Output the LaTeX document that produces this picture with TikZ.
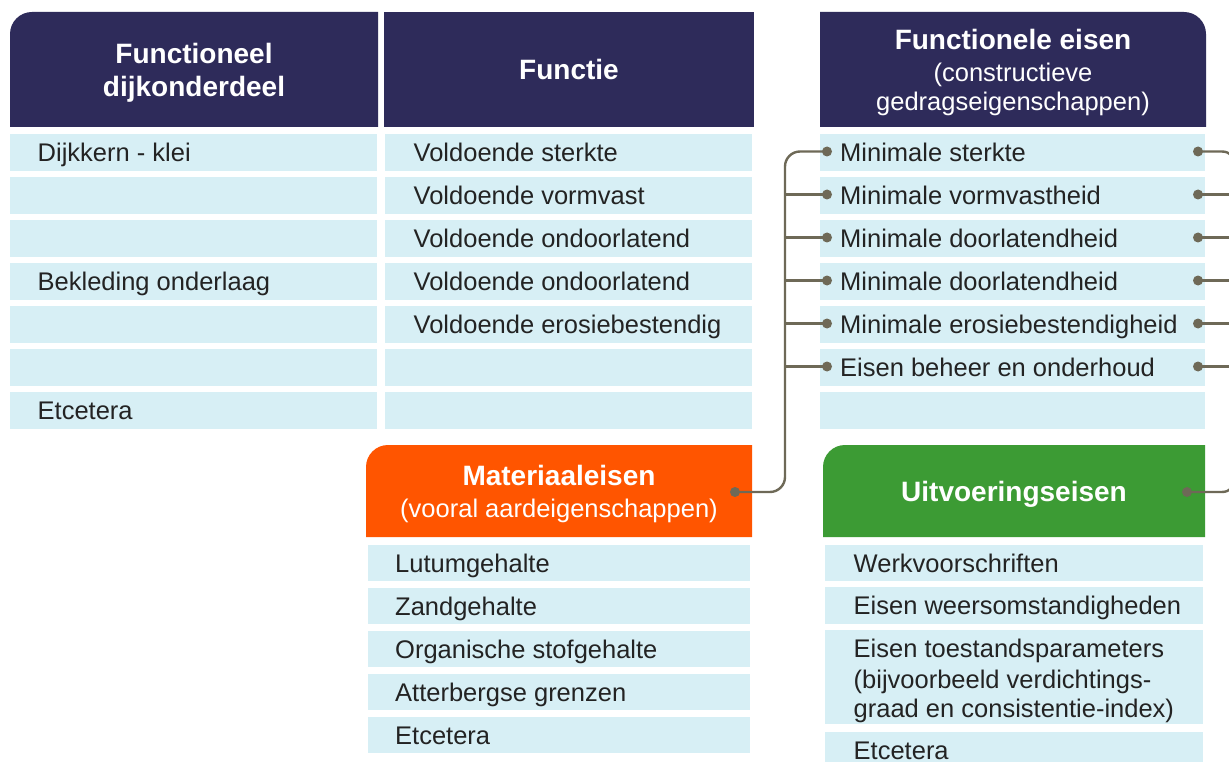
\documentclass[tikz,border=0pt]{standalone}
\usepackage{fontspec}
\setmainfont{Liberation Sans}
\definecolor{navy}{HTML}{2E2B5A}
\definecolor{cellblue}{HTML}{D7EFF5}
\definecolor{orangeA}{HTML}{FF5500}
\definecolor{greenA}{HTML}{3C9B34}
\definecolor{conn}{HTML}{6E6957}
\definecolor{txt}{HTML}{232323}
\begin{document}
\begin{tikzpicture}[x=1pt,y=-1pt,
 cellbox/.style={fill=cellblue, draw=none, anchor=north west, inner sep=0pt, minimum height=37pt},
 celltext/.style={anchor=base west, inner sep=0pt, text=txt, font=\fontsize{25.5}{30}\selectfont},
 headtitle/.style={anchor=base, inner sep=0pt, text=white, font=\bfseries\fontsize{28}{33}\selectfont},
 headsub/.style={anchor=base, inner sep=0pt, text=white, font=\fontsize{25.5}{30}\selectfont},
 dotnode/.style={circle, fill=conn, inner sep=0pt, minimum size=10pt},
 connline/.style={draw=conn, line width=2.4pt}
]
\useasboundingbox (0,0) rectangle (1229,762);
\clip (0,0) rectangle (1229,762);
\fill[white] (0,0) rectangle (1229,762);

% headers
\fill[navy] (10,127) [rounded corners=22pt] -- (10,12) [sharp corners] -- (378,12) -- (378,127) -- cycle;
\fill[navy] (384,12) rectangle (754,127);
\fill[navy] (820,127) -- (820,12) [rounded corners=22pt] -- (1206,12) [sharp corners] -- (1206,127) -- cycle;
\node[headtitle] (h1a) at (194,63.3) {Functioneel};
\node[headtitle] (h1b) at (194,96.7) {dijkonderdeel};
\node[headtitle] (h2) at (569,80) {Functie};
\node[headtitle] (h3a) at (1013,50) {Functionele eisen};
\node[headsub] (h3b) at (1013,82) {(constructieve};
\node[headsub] (h3c) at (1013,111) {gedragseigenschappen)};

% table cells
\foreach \i in {0,...,6} {
  \node[cellbox, minimum width=367pt] (a\i) at (10,{133.5+43*\i}) {};
  \node[cellbox, minimum width=367pt] (b\i) at (385,{133.5+43*\i}) {};
  \node[cellbox, minimum width=385pt] (c\i) at (820,{133.5+43*\i}) {};
}
\node[celltext] (ta0) at ([shift={(27.5,28)}]a0.north west) {Dijkkern - klei};
\node[celltext] (ta3) at ([shift={(27.5,28)}]a3.north west) {Bekleding onderlaag};
\node[celltext] (ta6) at ([shift={(27.5,28)}]a6.north west) {Etcetera};

\node[celltext] (tb0) at ([shift={(28.5,28)}]b0.north west) {Voldoende sterkte};
\node[celltext] (tb1) at ([shift={(28.5,28)}]b1.north west) {Voldoende vormvast};
\node[celltext] (tb2) at ([shift={(28.5,28)}]b2.north west) {Voldoende ondoorlatend};
\node[celltext] (tb3) at ([shift={(28.5,28)}]b3.north west) {Voldoende ondoorlatend};
\node[celltext] (tb4) at ([shift={(28.5,28)}]b4.north west) {Voldoende erosiebestendig};

\node[celltext] (tc0) at ([shift={(20,28)}]c0.north west) {Minimale sterkte};
\node[celltext] (tc1) at ([shift={(20,28)}]c1.north west) {Minimale vormvastheid};
\node[celltext] (tc2) at ([shift={(20,28)}]c2.north west) {Minimale doorlatendheid};
\node[celltext] (tc3) at ([shift={(20,28)}]c3.north west) {Minimale doorlatendheid};
\node[celltext] (tc4) at ([shift={(20,28)}]c4.north west) {Minimale erosiebestendigheid};
\node[celltext] (tc5) at ([shift={(20,28)}]c5.north west) {Eisen beheer en onderhoud};

% Materiaaleisen
\fill[orangeA] (366,537) [rounded corners=22pt] -- (366,445) [sharp corners] -- (752,445) -- (752,537) -- cycle;
\node[headtitle] (mt) at (559,485) {Materiaaleisen};
\node[headsub] (ms) at (559,517) {(vooral aardeigenschappen)};
\foreach \i in {0,...,4} {
  \node[cellbox, minimum width=382pt, minimum height=36pt] (m\i) at (368,{545+43*\i}) {};
}
\node[celltext] (tm0) at ([shift={(27,27.5)}]m0.north west) {Lutumgehalte};
\node[celltext] (tm1) at ([shift={(27,27.5)}]m1.north west) {Zandgehalte};
\node[celltext] (tm2) at ([shift={(27,27.5)}]m2.north west) {Organische stofgehalte};
\node[celltext] (tm3) at ([shift={(27,27.5)}]m3.north west) {Atterbergse grenzen};
\node[celltext] (tm4) at ([shift={(27,27.5)}]m4.north west) {Etcetera};

% Uitvoeringseisen
\fill[greenA] (823,537) [rounded corners=22pt] -- (823,445) [sharp corners] -- (1205,445) -- (1205,537) -- cycle;
\node[headtitle] (ut) at (1014,501) {Uitvoeringseisen};
\node[cellbox, minimum width=378pt, minimum height=36pt] (u0) at (825,545) {};
\node[cellbox, minimum width=378pt, minimum height=37pt] (u1) at (825,587) {};
\node[cellbox, minimum width=378pt, minimum height=94pt] (u2) at (825,630) {};
\node[cellbox, minimum width=378pt, minimum height=40pt] (u3) at (825,732) {};
\node[celltext] (tu0) at ([shift={(28.5,27)}]u0.north west) {Werkvoorschriften};
\node[celltext] (tu1) at ([shift={(28.5,27)}]u1.north west) {Eisen weersomstandigheden};
\node[celltext] (tu2a) at ([shift={(28.5,27)}]u2.north west) {Eisen toestandsparameters};
\node[celltext] (tu2b) at ([shift={(28.5,58)}]u2.north west) {(bijvoorbeeld verdichtings-};
\node[celltext] (tu2c) at ([shift={(28.5,87)}]u2.north west) {graad en consistentie-index)};
\node[celltext] (tu3) at ([shift={(28.5,27)}]u3.north west) {Etcetera};

% connectors
\node[dotnode] (dm) at (735,492) {};
\node[dotnode] (dg) at (1187,492) {};
\foreach \i in {0,...,5} {
  \node[dotnode] (l\i) at (827,{151.5+43*\i}) {};
  \node[dotnode] (r\i) at (1198,{151.5+43*\i}) {};
}
\coordinate (bl) at (785,151.5);
\coordinate (brt) at (1236,151.5);
\coordinate (brb) at (1236,492);
\draw[connline, rounded corners=15pt] (dm.center) -| (bl) -- (l0.center);
\foreach \i in {1,...,5} {
  \draw[connline] (l\i.center -| bl) -- (l\i.center);
  \draw[connline] (r\i.center) -- (r\i.center -| brt);
}
\draw[connline, rounded corners=14pt] (r0.center) -- (brt) -- (brb) -- (dg.center);
\end{tikzpicture}
\end{document}
